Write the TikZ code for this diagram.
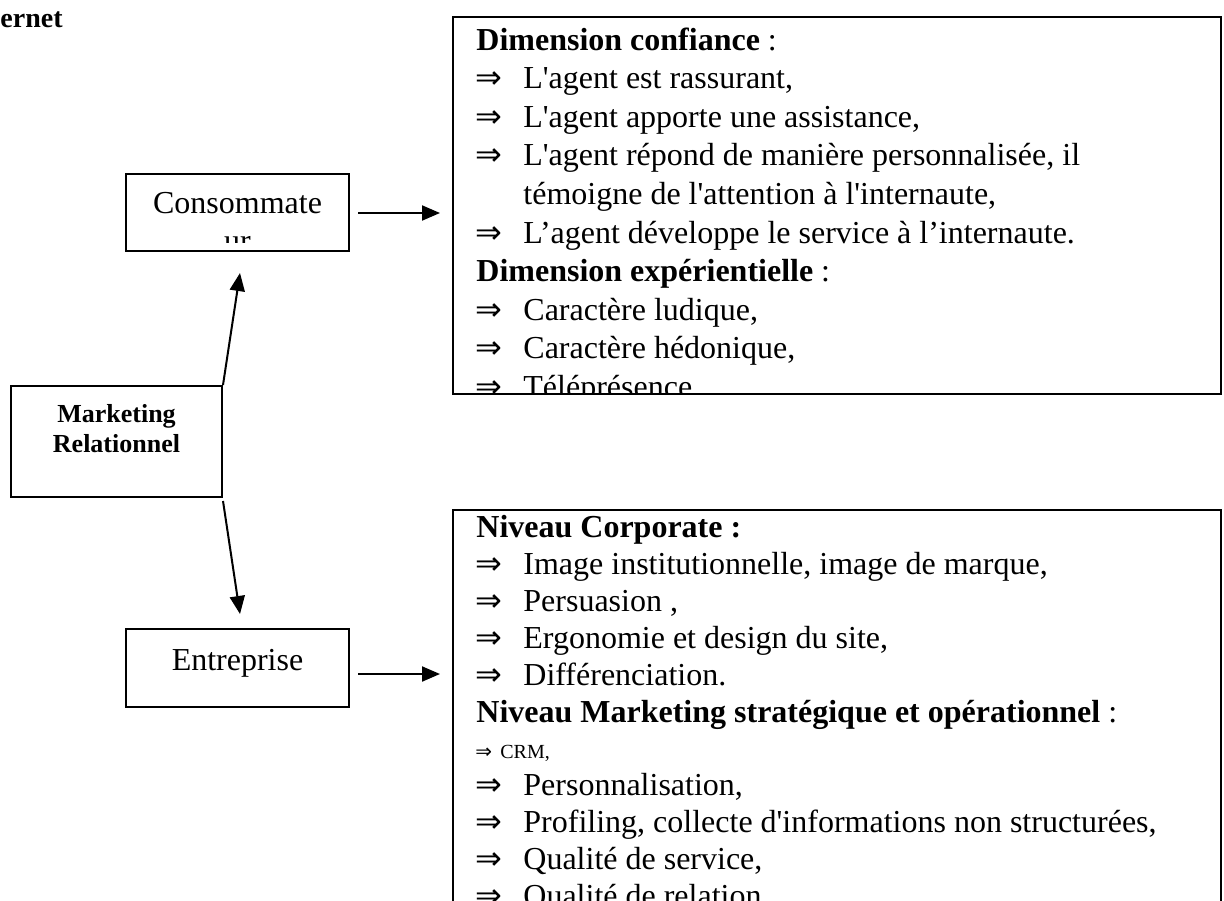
\documentclass[tikz,border=0pt]{standalone}
\usepackage{fontspec}
\setmainfont{Liberation Serif}
\newfontfamily\listfont{Liberation Serif}
\newfontfamily\arrfont{DejaVu Sans}
\usetikzlibrary{arrows.meta,calc}
\newcommand{\impl}{\makebox[24pt][l]{\arrfont ⇒}}
\newcommand{\implsmall}{\makebox[12.5pt][l]{\fontsize{10pt}{12pt}\selectfont\arrfont ⇒}}
\begin{document}
\begin{tikzpicture}[x=0.5pt,y=-0.5pt,
  box/.style={draw, line width=1pt, inner sep=0pt},
  arr/.style={line width=1pt, -{Triangle[length=9pt,width=7.5pt]}},
  lst/.style={anchor=base west, inner sep=0pt, font=\listfont\fontsize{16pt}{19pt}\selectfont},
  lbl/.style={inner sep=0pt, font=\fontsize{16pt}{19pt}\selectfont}]
\useasboundingbox (0,0) rectangle (1224,900);
\clip (0,0) rectangle (1224,900);

% title fragment
\node[anchor=base west, inner sep=0pt, font=\bfseries\fontsize{14pt}{16pt}\selectfont] (title) at (0,27) {ernet};

% left boxes
\node[box, minimum width=111.5pt, minimum height=38.5pt] (cons) at (237.5,212.5) {};
\begin{scope}
  \clip (127,175) rectangle (348,242);
  \node[lbl, anchor=base] (constxt) at (237.5,213) {Consommate};
  \node[lbl, anchor=base] (constxt2) at (237.5,251) {ur};
\end{scope}
\node[box, minimum width=111.5pt, minimum height=39pt] (ent) at (237.5,668) {};
\node[lbl, anchor=base] (enttxt) at (237.5,670) {Entreprise};
\node[box, minimum width=105.5pt, minimum height=55.5pt] (mk) at (116.5,441.5) {};
\node[inner sep=0pt, anchor=base, font=\bfseries\fontsize{13pt}{15pt}\selectfont] (mk1) at (116.5,422) {Marketing};
\node[inner sep=0pt, anchor=base, font=\bfseries\fontsize{13pt}{15pt}\selectfont] (mk2) at (116.5,452) {Relationnel};

% right boxes
\node[box, minimum width=384pt, minimum height=188.5pt] (topbox) at (837,205.5) {};
\node[box, minimum width=384pt, minimum height=210pt] (botbox) at (837,720) {};

% connectors
\coordinate (t1) at (440,213);
\coordinate (t2) at (440,674);
\draw[arr] (mk.north east) -- ($(cons.south)+(2.5,21)$);
\draw[arr] ($(mk.south east)+(0,3)$) -- ($(ent.north)+(2.5,-14)$);
\draw[arr] ($(cons.east)+(8,0.5)$) -- (t1);
\draw[arr] ($(ent.east)+(8,6)$) -- (t2);

% top list
\begin{scope}
  \clip (454,18) rectangle (1220,392);
  \node[lst] (a1) at (476,50) {\textbf{Dimension confiance} :};
  \node[lst] (a2) at (475,88.6) {\impl L'agent est rassurant,};
  \node[lst] (a3) at (475,127.2) {\impl L'agent apporte une assistance,};
  \node[lst] (a4) at (475,165.8) {\impl L'agent répond de manière personnalisée, il};
  \node[lst] (a5) at (523,204.4) {témoigne de l'attention à l'internaute,};
  \node[lst] (a6) at (475,243) {\impl L’agent développe le service à l’internaute.};
  \node[lst] (a7) at (476,281.6) {\textbf{Dimension expérientielle} :};
  \node[lst] (a8) at (475,320.2) {\impl Caractère ludique,};
  \node[lst] (a9) at (475,358.8) {\impl Caractère hédonique,};
  \node[lst] (a10) at (475,397.4) {\impl Téléprésence};
\end{scope}

% bottom list
\begin{scope}
  \clip (454,511) rectangle (1220,900);
  \node[lst] (b1) at (476,537) {\textbf{Niveau Corporate :}};
  \node[lst] (b2) at (475,574) {\impl Image institutionnelle, image de marque,};
  \node[lst] (b3) at (475,611) {\impl Persuasion ,};
  \node[lst] (b4) at (475,648) {\impl Ergonomie et design du site,};
  \node[lst] (b5) at (475,685) {\impl Différenciation.};
  \node[lst] (b6) at (476,722) {\textbf{Niveau Marketing stratégique et opérationnel} :};
  \node[lst, font=\listfont\fontsize{10pt}{12pt}\selectfont] (b7) at (475,758) {\implsmall CRM,};
  \node[lst] (b8) at (475,795) {\impl Personnalisation,};
  \node[lst] (b9) at (475,832) {\impl Profiling, collecte d'informations non structurées,};
  \node[lst] (b10) at (475,869) {\impl Qualité de service,};
  \node[lst] (b11) at (475,906) {\impl Qualité de relation};
\end{scope}
\end{tikzpicture}
\end{document}
